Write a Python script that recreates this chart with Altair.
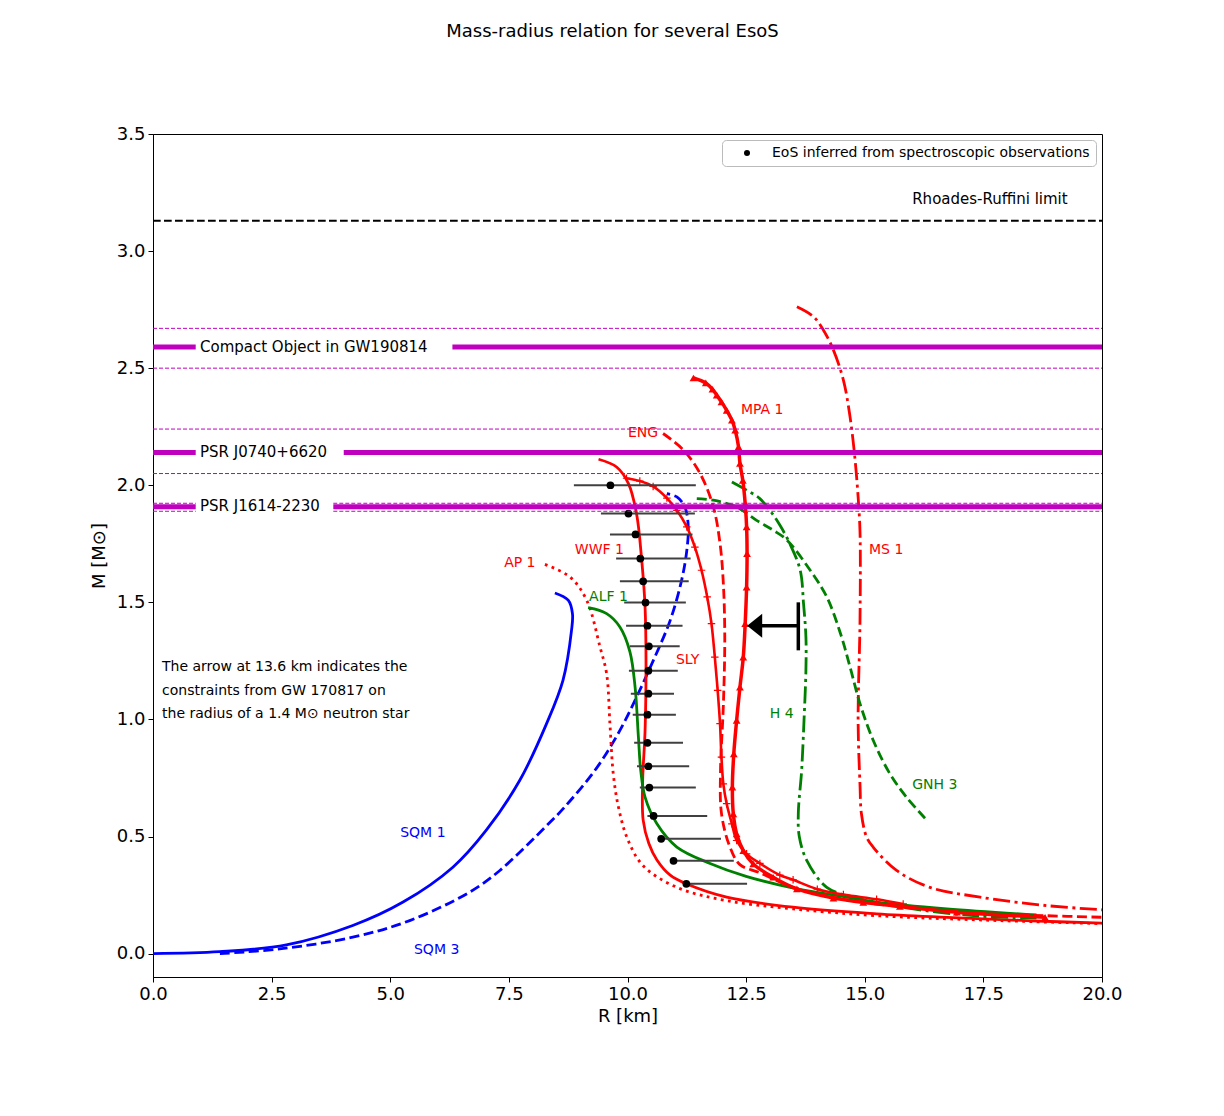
import altair as alt
import pandas as pd

FONT = "DejaVu Sans"
RED, GREEN, BLUE, MAG = "#ff0000", "#008000", "#0000ff", "#bf00bf"

# ---------------- EoS curves (R in km, M in solar masses) ----------------
sqm1_R = [0.0, 1.4, 2.81, 4.21, 5.27, 6.32, 7.02, 7.73, 8.29, 8.64, 8.82, 8.84, 8.75, 8.47]
sqm1_M = [0.0, 0.008, 0.037, 0.12, 0.22, 0.369, 0.526, 0.74, 0.98, 1.167, 1.38, 1.452, 1.509, 1.54]

sqm3_R = [1.41, 2.67, 4.21, 5.41, 6.67, 7.31, 8.29, 8.65, 9.34, 9.84, 10.19, 10.54, 10.90, 11.14, 11.25, 11.28, 11.21, 11.04, 10.83]
sqm3_M = [0.0, 0.02, 0.07, 0.141, 0.262, 0.355, 0.545, 0.62, 0.79, 0.953, 1.095, 1.25, 1.423, 1.594, 1.722, 1.822, 1.907, 1.95, 1.964]

ap1_R = [8.26, 8.79, 9.14, 9.42, 9.56, 9.63, 9.70, 9.81, 10.0, 10.33, 11.04, 12.09, 13.49, 15.25, 17.5, 20.0]
ap1_M = [1.662, 1.608, 1.509, 1.31, 1.195, 0.98, 0.768, 0.625, 0.49, 0.375, 0.283, 0.226, 0.191, 0.162, 0.143, 0.128]

wwf1_R = [9.39, 9.77, 10.02, 10.19, 10.30, 10.37, 10.39, 10.37, 10.32, 10.33, 10.45, 10.62, 10.90, 11.24, 12.09, 13.49, 15.25, 16.73, 18.5, 20.0]
wwf1_M = [2.111, 2.078, 2.007, 1.879, 1.679, 1.48, 1.25, 0.95, 0.74, 0.57, 0.47, 0.40, 0.335, 0.298, 0.241, 0.198, 0.17, 0.155, 0.14, 0.13]

alf1_R = [9.17, 9.56, 9.84, 10.05, 10.16, 10.23, 10.28, 10.37, 10.62, 11.04, 11.74, 12.5, 13.5, 14.62, 15.25, 16.73, 18.62]
alf1_M = [1.477, 1.452, 1.395, 1.29, 1.138, 0.924, 0.78, 0.668, 0.554, 0.455, 0.385, 0.33, 0.28, 0.241, 0.22, 0.191, 0.165]

sly_R = [9.98, 10.26, 10.54, 10.83, 11.04, 11.25, 11.42, 11.56, 11.68, 11.77, 11.84, 11.90, 11.95, 11.98, 12.02, 12.09,
         12.20, 12.30, 12.51, 12.79, 13.21, 13.49, 14.0, 14.55, 15.25, 15.81]
sly_M = [2.03, 2.018, 1.995, 1.945, 1.893, 1.822, 1.736, 1.637, 1.523, 1.409, 1.266, 1.124, 0.982, 0.839, 0.725, 0.64,
         0.554, 0.483, 0.426, 0.385, 0.335, 0.315, 0.275, 0.252, 0.232, 0.212]

mpa1_R = [11.39, 11.65, 11.79, 11.88, 11.98, 12.09, 12.20, 12.27, 12.34, 12.37, 12.43, 12.48, 12.51, 12.52, 12.51, 12.48,
          12.44, 12.37, 12.30, 12.24, 12.21, 12.23, 12.30, 12.44, 12.65, 13.07, 13.57, 14.34, 14.97, 15.74, 16.94, 18.80]
mpa1_M = [2.458, 2.437, 2.41, 2.385, 2.356, 2.32, 2.278, 2.235, 2.164, 2.093, 2.021, 1.922, 1.822, 1.708, 1.565, 1.409,
          1.266, 1.138, 0.996, 0.853, 0.711, 0.597, 0.511, 0.44, 0.383, 0.326, 0.276, 0.237, 0.219, 0.201, 0.177, 0.155]

eng_R = [10.75, 11.18, 11.53, 11.81, 11.95, 12.02, 12.05, 12.02, 11.96, 11.98, 12.15, 12.37, 12.79, 13.49, 14.55, 16.0, 17.43, 18.8, 20.0]
eng_M = [2.221, 2.15, 2.05, 1.907, 1.751, 1.58, 1.35, 1.06, 0.78, 0.6, 0.46, 0.38, 0.345, 0.283, 0.232, 0.195, 0.172, 0.162, 0.155]

ms1_R = [13.57, 13.92, 14.13, 14.34, 14.55, 14.69, 14.79, 14.86, 14.90, 14.90, 14.86, 14.90, 14.93, 15.04, 15.18, 15.67, 16.37, 17.43, 18.83, 20.0]
ms1_M = [2.762, 2.72, 2.662, 2.577, 2.449, 2.292, 2.121, 1.95, 1.80, 1.423, 0.996, 0.72, 0.597, 0.497, 0.454, 0.355, 0.283, 0.241, 0.205, 0.187]

h4_R = [12.20, 12.51, 12.79, 13.0, 13.21, 13.42, 13.64, 13.71, 13.76, 13.76, 13.72, 13.67, 13.60, 13.62, 13.78, 14.20, 14.76, 16.02, 17.43, 18.62]
h4_M = [2.014, 1.979, 1.943, 1.893, 1.83, 1.751, 1.637, 1.494, 1.352, 1.209, 0.996, 0.782, 0.60, 0.50, 0.397, 0.283, 0.241, 0.191, 0.16, 0.152]

gnh3_R = [11.46, 11.81, 12.30, 12.72, 13.07, 13.35, 13.85, 14.20, 14.49, 14.69, 14.90, 15.18, 15.53, 15.88, 16.27]
gnh3_M = [1.943, 1.936, 1.907, 1.85, 1.808, 1.768, 1.637, 1.523, 1.366, 1.224, 1.067, 0.91, 0.768, 0.668, 0.578]

# ---------------- spectroscopic points with radius error bars ----------------
obs_R = [9.64, 10.02, 10.17, 10.27, 10.33, 10.38, 10.42, 10.45, 10.44, 10.44, 10.42, 10.42, 10.44, 10.46, 10.55, 10.71, 10.97, 11.24]
obs_M = [2.00, 1.879, 1.79, 1.687, 1.59, 1.499, 1.40, 1.312, 1.208, 1.11, 1.02, 0.90, 0.80, 0.709, 0.588, 0.49, 0.396, 0.298]
obs_lo = [8.87, 9.44, 9.63, 9.76, 9.84, 9.93, 9.97, 10.05, 10.03, 10.07, 10.11, 10.14, 10.20, 10.26, 10.42, 10.64, 10.90, 11.19]
obs_hi = [11.44, 11.42, 11.37, 11.33, 11.29, 11.23, 11.16, 11.10, 11.06, 10.98, 11.02, 11.17, 11.30, 11.44, 11.68, 11.97, 12.24, 12.52]

# ---------------- mass limits ----------------
rr_limit = 3.13
gw190814 = [2.59, 2.50, 2.67]
j0740 = [2.14, 2.05, 2.24]
j1614 = [1.908, 1.889, 1.923]
label_gap_left = 0.9
gap_right = {"GW190814": 6.31, "J0740": 4.02, "J1614": 3.80}

# GW170817 constraint arrow
arrow_R = 13.6
arrow_M = 1.4

x_ticks = [0.0, 2.5, 5.0, 7.5, 10.0, 12.5, 15.0, 17.5, 20.0]
y_ticks = [0.0, 0.5, 1.0, 1.5, 2.0, 2.5, 3.0, 3.5]

# ---------------- encodings ----------------
xs = alt.Scale(domain=[0, 20], nice=False, zero=False)
ys = alt.Scale(domain=[-0.1, 3.5], nice=False, zero=False)
xaxis = alt.Axis(values=x_ticks, format=".1f", title="R [km]", grid=False, titlePadding=4, labelFlush=False)
yaxis = alt.Axis(values=y_ticks, format=".1f", title="M [M⊙]", grid=False, titlePadding=8, labelFlush=False)


def X(f="R"):
    return alt.X(f"{f}:Q", scale=xs, axis=xaxis)


def Y(f="M"):
    return alt.Y(f"{f}:Q", scale=ys, axis=yaxis)


def cdf(R, M):
    return pd.DataFrame({"R": R, "M": M, "i": list(range(len(R)))})


def curve(R, M, color, dash=None, width=2.8):
    kw = dict(color=color, strokeWidth=width, interpolate="catmull-rom", clip=True)
    if dash:
        kw["strokeDash"] = dash
    return alt.Chart(cdf(R, M)).mark_line(**kw).encode(x=X(), y=Y(), order=alt.Order("i:Q"))


DASH = [10, 4.5]
DOT = [2.8, 4.4]
DASHDOT = [17, 4.5, 3, 4.5]

layers = [
    curve(sqm1_R, sqm1_M, BLUE),
    curve(sqm3_R, sqm3_M, BLUE, DASH),
    curve(ap1_R, ap1_M, RED, DOT),
    curve(wwf1_R, wwf1_M, RED),
    curve(alf1_R, alf1_M, GREEN),
    curve(eng_R, eng_M, RED, DASH),
    curve(ms1_R, ms1_M, RED, DASHDOT),
    curve(h4_R, h4_M, GREEN, DASHDOT),
    curve(gnh3_R, gnh3_M, GREEN, DASH),
    curve(sly_R, sly_M, RED, None, 2.6),
    alt.Chart(cdf(sly_R, sly_M)).mark_point(
        shape="M-1,0L1,0M0,-1L0,1", filled=False, color=RED, strokeWidth=1.2, size=56, opacity=1
    ).encode(x=X(), y=Y()),
    curve(mpa1_R, mpa1_M, RED, None, 3.5),
    alt.Chart(cdf(mpa1_R, mpa1_M)).mark_point(
        shape="triangle-up", filled=True, color=RED, size=60, opacity=1
    ).encode(x=X(), y=Y()),
]

# observational points
obs = pd.DataFrame({"R": obs_R, "M": obs_M, "lo": obs_lo, "hi": obs_hi,
                    "s": ["EoS inferred from spectroscopic observations"] * len(obs_R)})
layers.append(alt.Chart(obs).mark_rule(color="#404040", strokeWidth=2).encode(
    x=X("lo"), x2=alt.X2("hi:Q"), y=Y()))
layers.append(alt.Chart(obs).mark_point(filled=True, size=60, opacity=1).encode(
    x=X(), y=Y(),
    color=alt.Color("s:N", scale=alt.Scale(range=["black"]),
                    legend=alt.Legend(title=None, orient="top-right", offset=6, labelFontSize=14,
                                      labelFont=FONT, labelColor="black", symbolSize=36, labelLimit=0,
                                      symbolType="circle", symbolOffset=12, labelOffset=18,
                                      padding=6, strokeColor="#bbbbbb", fillColor="white",
                                      cornerRadius=4))))

# magenta thin dashed bounds
bound_rows = []
for m in [gw190814[1], gw190814[2], j0740[1], j0740[2]]:
    bound_rows.append({"M": m, "R0": 0.0, "R1": 20.0})
for m in j1614[1:]:
    bound_rows.append({"M": m, "R0": 0.0, "R1": label_gap_left})
    bound_rows.append({"M": m, "R0": gap_right["J1614"], "R1": 20.0})
layers.append(alt.Chart(pd.DataFrame(bound_rows)).mark_rule(color=MAG, strokeWidth=1, strokeDash=[4, 2]).encode(
    x=X("R0"), x2=alt.X2("R1:Q"), y=Y()))

# thick central values, interrupted by their labels
seg_rows = []
for key, vals in [("GW190814", gw190814), ("J0740", j0740), ("J1614", j1614)]:
    seg_rows.append({"M": vals[0], "R0": 0.0, "R1": label_gap_left})
    seg_rows.append({"M": vals[0], "R0": gap_right[key], "R1": 20.0})
layers.append(alt.Chart(pd.DataFrame(seg_rows)).mark_rule(color=MAG, strokeWidth=5).encode(
    x=X("R0"), x2=alt.X2("R1:Q"), y=Y()))

# Rhoades-Ruffini limit
layers.append(alt.Chart(pd.DataFrame({"M": [rr_limit], "R0": [0.0], "R1": [20.0]})).mark_rule(
    color="black", strokeWidth=2, strokeDash=[7.7, 3.3]).encode(x=X("R0"), x2=alt.X2("R1:Q"), y=Y()))

# arrow
arr = pd.DataFrame({"R": [arrow_R], "M": [arrow_M]})
layers.append(alt.Chart(arr).transform_calculate(R0="datum.R - 0.77")
              .mark_rule(color="black", strokeWidth=3.5).encode(x=X(), x2=alt.X2("R0:Q"), y=Y()))
layers.append(alt.Chart(arr).transform_calculate(M0="datum.M - 0.105", M1="datum.M + 0.1")
              .mark_rule(color="black", strokeWidth=3.5).encode(x=X(), y=Y("M0"), y2=alt.Y2("M1:Q")))
layers.append(alt.Chart(arr).transform_calculate(RH="datum.R - 0.92")
              .mark_point(shape="M-1,0L1,-1.6L1,1.6Z", filled=True, color="black", size=225, opacity=1)
              .encode(x=X("RH"), y=Y()))

# text labels
lab_text = ["Rhoades-Ruffini limit", "Compact Object in GW190814", "PSR J0740+6620", "PSR J1614-2230",
            "MPA 1", "ENG", "WWF 1", "MS 1", "AP 1", "ALF 1", "SLY", "H 4", "GNH 3", "SQM 1", "SQM 3",
            "The arrow at 13.6 km indicates the", "constraints from GW 170817 on",
            "the radius of a 1.4 M⊙ neutron star"]
lab_R = [16.0, 0.99, 0.99, 0.99, 12.39, 10.01, 8.89, 15.09, 7.40, 9.19, 11.02, 13.0, 16.0, 5.21, 5.50,
         0.19, 0.19, 0.19]
lab_M = [3.222, 2.59, 2.14, 1.91, 2.32, 2.222, 1.722, 1.722, 1.667, 1.521, 1.252, 1.021, 0.722, 0.517, 0.017,
         1.222, 1.12, 1.021]
lab_col = ["black", "black", "black", "black", RED, RED, RED, RED, RED, GREEN, RED, GREEN, GREEN, BLUE, BLUE,
           "black", "black", "black"]
lab_size = [15, 15, 15, 15, 14, 14, 14, 14, 14, 14, 14, 14, 14, 14, 14, 14, 14, 14]
labels = pd.DataFrame({"R": lab_R, "M": lab_M, "t": lab_text, "c": lab_col, "fs": lab_size})
layers.append(alt.Chart(labels).mark_text(align="left", baseline="middle", font=FONT).encode(
    x=X(), y=Y(), text="t:N", color=alt.Color("c:N", scale=None),
    size=alt.Size("fs:Q", scale=None, legend=None)))

chart = alt.layer(*layers).properties(
    width=949, height=843,
    autosize=alt.AutoSizeParams(type="none"),
    padding={"left": 145, "top": 126, "right": 114, "bottom": 131},
    title=alt.TitleParams("Mass-radius relation for several EsoS", fontSize=18, font=FONT,
                          fontWeight="normal", color="black", offset=84, dx=-15, anchor="middle"),
).configure(background="white").configure_axis(
    labelFont=FONT, titleFont=FONT, labelFontSize=18, titleFontSize=18, titleFontWeight="normal",
    labelColor="black", titleColor="black", domainColor="black", tickColor="black",
    tickSize=5, grid=False, labelPadding=3,
).configure_view(stroke="black", strokeWidth=1)

chart.save("out.html", embed_options={"renderer": "svg", "actions": False})
